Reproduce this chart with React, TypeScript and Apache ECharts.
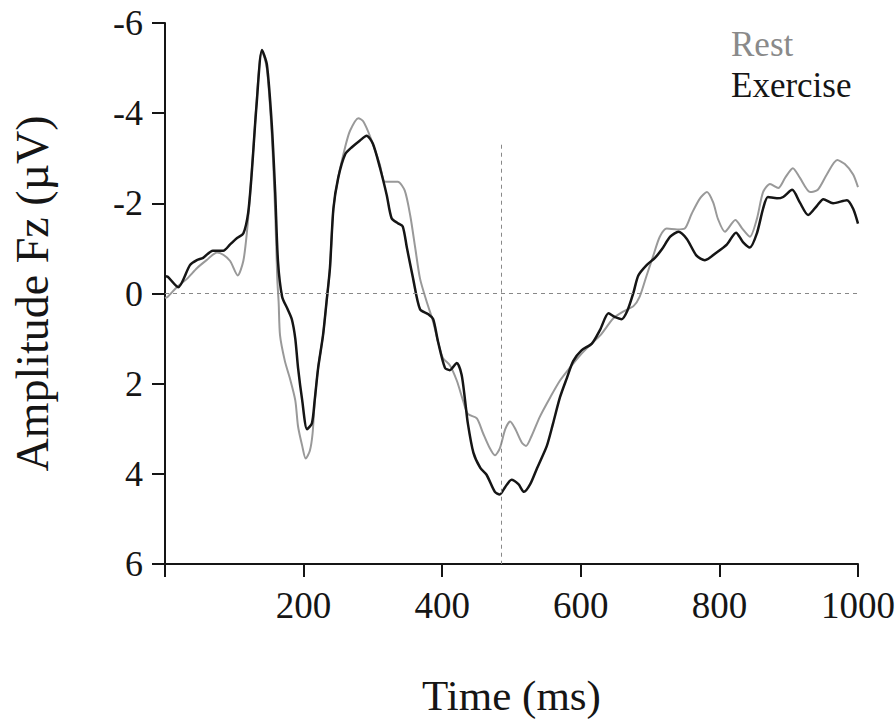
import React, { useEffect, useRef } from "react";
import * as echarts from "echarts";

const xTicks = [0, 200, 400, 600, 800, 1000];
const yTicks = [-6, -4, -2, 0, 2, 4, 6];

const restTime = [0, 4, 17, 32, 46, 60, 75, 84, 94, 105, 113, 118, 123, 130, 137, 140, 147, 154, 159, 162, 164, 166, 173, 180, 188, 192, 198, 203, 209, 213, 216, 221, 228, 233, 238, 243, 250, 260, 267, 279, 286, 296, 310, 317, 325, 336, 346, 354, 361, 368, 378, 387, 394, 401, 411, 421, 430, 437, 450, 459, 469, 476, 483, 491, 498, 505, 515, 521, 529, 541, 556, 570, 584, 599, 613, 628, 647, 661, 676, 685, 695, 705, 714, 724, 739, 750, 760, 772, 782, 791, 798, 808, 823, 833, 844, 854, 863, 873, 885, 895, 906, 916, 931, 942, 955, 970, 981, 993, 1000];
const restAmp = [0.1, 0.07, -0.14, -0.33, -0.56, -0.74, -0.91, -0.86, -0.72, -0.4, -0.72, -1.33, -2.25, -3.77, -5.22, -5.35, -4.99, -3.55, -1.79, -0.33, 0.2, 0.93, 1.5, 1.87, 2.37, 2.95, 3.38, 3.66, 3.49, 3.1, 2.4, 1.65, 0.93, 0.2, -0.56, -1.88, -2.57, -3.25, -3.61, -3.89, -3.82, -3.48, -2.86, -2.48, -2.48, -2.48, -2.28, -1.72, -1.02, -0.33, 0.2, 0.63, 1.07, 1.43, 1.59, 1.93, 2.37, 2.67, 2.77, 3.1, 3.44, 3.59, 3.44, 3.01, 2.84, 2.99, 3.31, 3.38, 3.16, 2.73, 2.3, 1.93, 1.65, 1.37, 1.15, 0.93, 0.55, 0.4, 0.28, 0.07, -0.4, -0.86, -1.26, -1.44, -1.42, -1.44, -1.77, -2.11, -2.25, -2.02, -1.65, -1.37, -1.63, -1.44, -1.26, -1.65, -2.25, -2.43, -2.34, -2.57, -2.78, -2.57, -2.25, -2.3, -2.64, -2.96, -2.87, -2.64, -2.36];

const exerciseTime = [0, 4, 19, 36, 46, 55, 69, 84, 94, 104, 113, 120, 125, 132, 140, 147, 154, 159, 163, 169, 177, 183, 188, 192, 198, 205, 212, 216, 221, 228, 233, 238, 243, 250, 260, 270, 281, 291, 300, 310, 320, 327, 336, 343, 349, 358, 368, 380, 387, 394, 404, 411, 421, 428, 433, 437, 445, 455, 464, 476, 483, 491, 500, 510, 518, 527, 537, 551, 560, 570, 580, 589, 601, 616, 628, 640, 649, 659, 667, 676, 683, 695, 707, 717, 729, 741, 753, 767, 779, 796, 811, 824, 834, 844, 854, 863, 870, 883, 892, 905, 916, 928, 941, 950, 964, 984, 993, 1000];
const exerciseAmp = [-0.38, -0.37, -0.14, -0.63, -0.74, -0.79, -0.95, -0.95, -1.09, -1.23, -1.33, -1.79, -2.64, -4.16, -5.4, -5.08, -3.77, -2.25, -0.72, 0.07, 0.35, 0.57, 1.0, 1.65, 2.37, 3.01, 2.88, 2.37, 1.65, 0.93, 0.2, -0.56, -1.88, -2.57, -3.09, -3.25, -3.39, -3.5, -3.32, -2.8, -2.18, -1.67, -1.56, -1.49, -1.02, -0.33, 0.35, 0.46, 0.57, 1.07, 1.65, 1.7, 1.54, 1.8, 2.37, 2.88, 3.53, 3.87, 4.02, 4.4, 4.46, 4.29, 4.13, 4.23, 4.4, 4.23, 3.87, 3.38, 2.88, 2.3, 1.87, 1.5, 1.26, 1.11, 0.8, 0.44, 0.52, 0.57, 0.39, -0.02, -0.4, -0.63, -0.79, -0.98, -1.26, -1.37, -1.21, -0.84, -0.74, -0.91, -1.09, -1.35, -1.14, -1.02, -1.33, -1.88, -2.14, -2.11, -2.14, -2.3, -2.02, -1.74, -1.95, -2.09, -2.0, -2.07, -1.88, -1.55];

const markerTime = 485;
const markerTop = -3.3;

const FONT = "'Liberation Serif', 'Times New Roman', serif";
const GRAY = "#999999";
const BLACK = "#151515";

export default function App() {
  const ref = useRef<HTMLDivElement>(null);
  useEffect(() => {
    document.body.style.margin = "0";
    if (!ref.current) return;
    const chart = echarts.init(ref.current, null, { renderer: "svg" });
    const restData = restTime.map((t, i) => [t, restAmp[i]]);
    const exData = exerciseTime.map((t, i) => [t, exerciseAmp[i]]);
    chart.setOption({
      animation: false,
      backgroundColor: "#ffffff",
      textStyle: { fontFamily: FONT },
      grid: { left: 165, right: 38, top: 23, bottom: 161, outerBoundsMode: "none" },
      legend: {
        orient: "vertical",
        left: 726,
        top: 24,
        padding: 0,
        itemGap: 1,
        itemWidth: 0,
        itemHeight: 0,
        icon: "none",
        selectedMode: false,
        textStyle: { fontFamily: FONT, fontSize: 35, lineHeight: 40 },
        data: [
          { name: "Rest", textStyle: { color: "#8a8a8a" } },
          { name: "Exercise", textStyle: { color: BLACK } },
        ],
      },
      xAxis: {
        type: "value",
        min: xTicks[0],
        max: xTicks[xTicks.length - 1],
        interval: 200,
        name: "Time (ms)",
        nameLocation: "middle",
        nameGap: 110,
        nameTextStyle: { fontFamily: FONT, fontSize: 43, color: BLACK },
        axisLine: { onZero: false, lineStyle: { color: BLACK, width: 2 } },
        axisTick: { show: true, length: 13, lineStyle: { color: BLACK, width: 2 } },
        axisLabel: {
          fontFamily: FONT,
          fontSize: 37,
          color: BLACK,
          margin: 23,
          formatter: (v: number) => (v === 0 ? "" : String(v)),
        },
        splitLine: { show: false },
      },
      yAxis: {
        type: "value",
        inverse: true,
        min: yTicks[0],
        max: yTicks[yTicks.length - 1],
        interval: 2,
        name: "Amplitude Fz (µV)",
        nameLocation: "middle",
        nameRotate: 90,
        nameGap: 110,
        nameTextStyle: { fontFamily: FONT, fontSize: 46, color: BLACK },
        axisLine: { show: true, onZero: false, lineStyle: { color: BLACK, width: 2 } },
        axisTick: { show: true, length: 13, lineStyle: { color: BLACK, width: 2 } },
        axisLabel: { fontFamily: FONT, fontSize: 36, color: BLACK, margin: 22 },
        splitLine: { show: false },
      },
      series: [
        {
          name: "Rest",
          type: "line",
          data: restData,
          showSymbol: false,
          smooth: 0.25,
          lineStyle: { color: GRAY, width: 2 },
          itemStyle: { color: GRAY },
          z: 2,
          markLine: {
            silent: true,
            symbol: "none",
            label: { show: false },
            lineStyle: { color: "#888888", type: [4, 4], width: 1 },
            data: [
              { yAxis: 0 },
              [
                { coord: [markerTime, markerTop] },
                { coord: [markerTime, yTicks[yTicks.length - 1]] },
              ],
            ],
          },
        },
        {
          name: "Exercise",
          type: "line",
          data: exData,
          showSymbol: false,
          smooth: 0.25,
          lineStyle: { color: BLACK, width: 2.5 },
          itemStyle: { color: BLACK },
          z: 3,
        },
      ],
    });
    return () => chart.dispose();
  }, []);
  return <div ref={ref} style={{ width: 896, height: 725 }} />;
}
